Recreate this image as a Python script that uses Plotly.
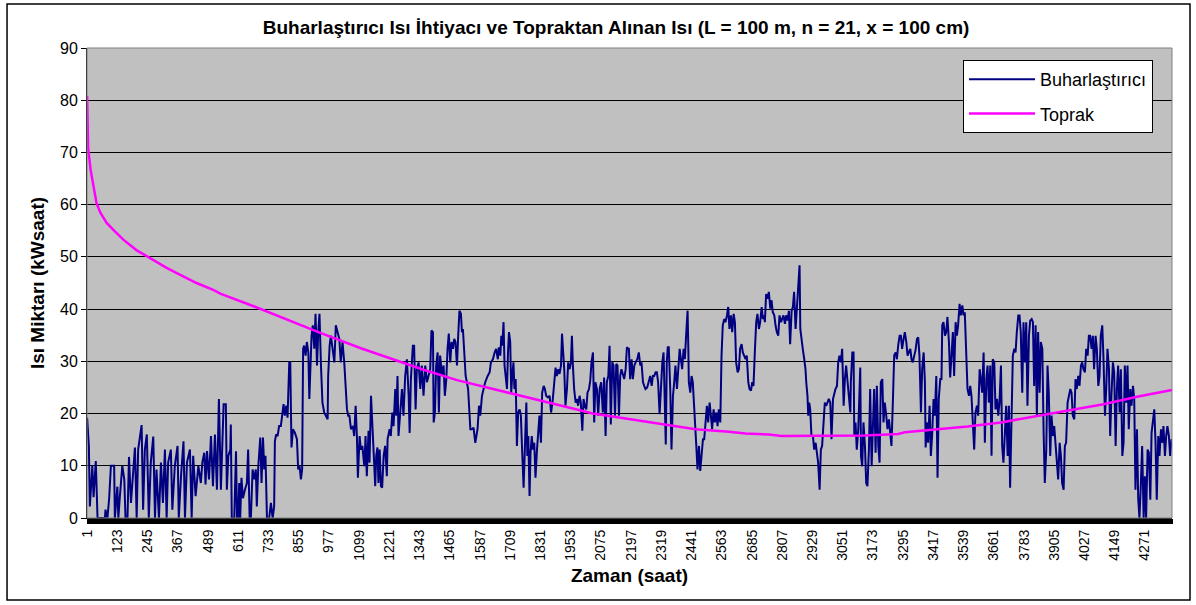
import plotly.graph_objects as go

# ---------------- data ----------------
tick_labels = [str(v) for v in range(1, 4272, 122)]
tick_positions = list(range(1, 4272, 122))

buhar_saat = [
    1, 8, 12, 22, 27, 36, 43, 73, 75, 83, 90, 97, 110, 113, 123, 127, 133, 143, 151, 156,
    164, 170, 178, 187, 194, 201, 207, 221, 227, 234, 242, 250, 258, 268, 275, 281, 291, 299, 307, 315,
    322, 328, 339, 345, 355, 366, 371, 380, 390, 396, 404, 416, 423, 429, 439, 450, 460, 466, 474, 479,
    485, 493, 501, 509, 517, 525, 533, 541,
    552, 561, 565, 571, 579, 581, 585, 595, 602, 606, 611, 615, 619, 624, 630, 638, 646, 651, 657, 662,
    669, 676, 682, 686, 692, 700, 705, 711, 716, 721, 727, 736, 743, 750, 756, 759, 764, 770, 776, 783,
    790, 794, 799, 805, 810, 817, 821, 824, 826, 832, 840, 848, 853, 859, 864, 869, 873, 877, 883, 888,
    894, 898, 902, 907, 912, 918, 923, 929, 934, 939, 945, 951, 958, 965, 972, 974, 980, 985, 992, 999,
    1005, 1012, 1019, 1025, 1032, 1039, 1046, 1050, 1055, 1060, 1066, 1074, 1079, 1085,
    1090, 1094, 1101, 1106, 1112, 1117, 1120, 1125, 1130, 1137, 1141, 1147, 1152, 1157, 1164, 1168, 1173, 1177,
    1182, 1187, 1192, 1198, 1204, 1211, 1214, 1222, 1227, 1233, 1238, 1245, 1249, 1254, 1258, 1265, 1272, 1278,
    1285, 1292, 1299, 1303, 1308, 1316, 1321, 1327, 1332, 1339, 1346, 1352, 1359, 1366, 1373, 1379, 1386, 1391,
    1397, 1400, 1405, 1410, 1416, 1421, 1426, 1434, 1440, 1445, 1451, 1456, 1461, 1467, 1472, 1478, 1483, 1488,
    1494, 1499, 1504, 1510, 1514, 1518, 1523, 1529, 1534, 1539, 1545, 1548, 1554, 1561, 1568, 1572, 1577, 1583,
    1588, 1595, 1601, 1608, 1618, 1626, 1631,
    1639, 1646, 1652, 1659, 1663, 1669, 1673, 1677, 1682, 1686, 1690, 1696, 1700, 1704, 1709, 1713, 1717, 1722,
    1726, 1731, 1736, 1741, 1747, 1752, 1757, 1763, 1768, 1774, 1778, 1782, 1787, 1791, 1796, 1800, 1806, 1811,
    1817, 1822, 1827, 1833, 1838, 1844, 1849, 1854, 1861, 1868, 1874, 1881, 1887, 1892, 1897, 1903, 1908, 1914,
    1918, 1922, 1927, 1932, 1938, 1943, 1949, 1954, 1958, 1962, 1967, 1973, 1978, 1983, 1989, 1994, 2000, 2005,
    2010, 2016, 2021, 2027, 2032, 2037, 2043, 2048, 2053, 2059, 2064, 2070, 2076, 2083, 2088, 2094, 2099, 2105,
    2110, 2115, 2121, 2126, 2132, 2137, 2142, 2148, 2153, 2158, 2164, 2169, 2175, 2180, 2185,
    2188, 2193, 2199, 2204, 2210, 2215, 2222, 2228, 2234, 2239, 2245, 2250, 2255, 2262, 2269, 2274, 2280, 2285,
    2290, 2296, 2301, 2306, 2312, 2317, 2323, 2328, 2333, 2337, 2341, 2345, 2349, 2355, 2360, 2366, 2371, 2376,
    2382, 2387, 2393, 2398, 2403, 2409, 2414, 2419, 2425, 2428, 2430, 2436, 2441, 2446, 2452, 2457, 2461, 2465,
    2471, 2476, 2481, 2487, 2492, 2498, 2503, 2508, 2514, 2519, 2524, 2530, 2535, 2541, 2546, 2551, 2557, 2562,
    2567, 2573, 2578, 2584, 2589, 2594, 2600, 2605, 2611, 2616, 2621, 2627, 2632, 2637, 2643, 2648, 2654, 2659,
    2664, 2670, 2675, 2681, 2686, 2691, 2697, 2702, 2707, 2713, 2718, 2724, 2729, 2734,
    2737, 2742, 2748, 2753, 2759, 2764, 2769, 2775, 2780, 2785, 2791, 2796, 2802, 2807, 2812, 2818, 2823, 2829,
    2834, 2839, 2845, 2850, 2855, 2861, 2866, 2872, 2877, 2880, 2885, 2890, 2896, 2901, 2904, 2909, 2912, 2916,
    2920, 2925, 2931, 2936, 2942, 2947, 2952, 2958, 2963, 2968, 2974, 2979, 2985, 2990, 2995, 3001, 3006, 3012,
    3017, 3022, 3028, 3033, 3038, 3044, 3049, 3055, 3060, 3065, 3071, 3076, 3082, 3084, 3090, 3095, 3098, 3103,
    3108, 3114, 3119, 3122, 3125, 3130, 3135, 3141, 3146, 3151, 3157, 3162, 3168, 3173, 3178, 3184, 3189, 3195,
    3200, 3205, 3211, 3216, 3221, 3227, 3232, 3238, 3243, 3248, 3254, 3259, 3265, 3270, 3275, 3281,
    3286, 3291, 3297, 3302, 3308, 3313, 3318, 3324, 3329, 3334, 3340, 3345, 3351, 3356, 3361, 3367, 3372, 3378,
    3383, 3386, 3391, 3396, 3402, 3407, 3412, 3418, 3423, 3429, 3434, 3439, 3445, 3450, 3453, 3458, 3464, 3469,
    3474, 3480, 3485, 3491, 3496, 3501, 3507, 3512, 3517, 3523, 3528, 3534, 3539, 3544, 3550, 3555, 3561, 3566,
    3571, 3577, 3582, 3587, 3593, 3598, 3604, 3609, 3614, 3620, 3625, 3631, 3636, 3641, 3647, 3652, 3657, 3663,
    3668, 3674, 3679, 3684, 3690, 3695, 3700, 3706, 3711, 3717, 3722, 3727, 3733, 3738, 3744, 3749, 3754, 3760,
    3765, 3770, 3776, 3781, 3787, 3792, 3797, 3803, 3808, 3814, 3819, 3824, 3830,
    3835, 3840, 3846, 3851, 3857, 3862, 3867, 3873, 3878, 3883, 3889, 3894, 3900, 3905, 3910, 3916, 3921, 3927,
    3932, 3937, 3943, 3948, 3953, 3959, 3964, 3970, 3975, 3980, 3986, 3991, 3996, 4002, 4007, 4013, 4018, 4023,
    4029, 4034, 4040, 4045, 4050, 4056, 4061, 4066, 4072, 4077, 4083, 4088, 4093, 4099, 4104, 4110, 4115, 4120,
    4126, 4131, 4136, 4142, 4147, 4153, 4158, 4163, 4169, 4174, 4180, 4185, 4190, 4196, 4201, 4206, 4212, 4217,
    4223, 4228, 4233, 4239, 4244, 4249, 4255, 4260, 4266, 4271, 4276, 4282, 4287, 4293, 4298, 4303, 4309, 4314,
    4319, 4325, 4330, 4336, 4341, 4346, 4352, 4357, 4362, 4368, 4373, 4379, 4380,
]

buhar_deger = [
    19.2, 13.8, 2.2, 10, 4, 10.9, 0, 0, 1.6, 0, 3.8, 10, 10, 0, 6, 0, 4, 10, 7.4, 0,
    0, 11.7, 2.9, 10, 13.5, 0, 13.1, 17.8, 1.6, 13.1, 16, 0, 10.6, 15.6, 0, 9.3, 0, 10.6, 2.9, 13.1,
    0, 10.6, 13.1, 1.6, 10, 13.8, 0, 8, 14.7, 0, 10.6, 13.1, 0, 11.9, 4.2, 10, 6.7, 10.6, 12.5, 6.4,
    12.8, 7.4, 15.7, 6.1, 16, 5.4, 22.8, 5.4,
    21.8, 21.8, 5.4, 11.9, 13.1, 17.9, 0, 0, 12.8, 0, 0, 6.7, 0, 7.7, 3.8, 5.4, 6.7, 13.1, 0, 0,
    9.3, 7.4, 9.3, 2.2, 9.9, 15.4, 6.7, 15.4, 9.3, 11.9, 0, 0, 2.9, 0, 2.2, 14.7, 16, 15.7, 17.6, 17.6,
    19.9, 21.8, 19.6, 21.5, 19.2, 29.8, 29.8, 20.8, 13.5, 17, 16.3, 15.1, 9.3, 9.9, 7.4, 9.3, 32.4, 33, 31.1, 33.7,
    31.7, 22.8, 27.2, 34.9, 36.9, 32.4, 39.1, 29.2, 35.6, 39.1, 29.2, 22.1, 20.2, 19.6, 18.9, 27.2, 33, 34.9, 32.4, 29.8,
    36.9, 35.6, 34.3, 29.8, 33.7, 29.8, 25.3, 20.8, 19.6, 19.6, 17, 17.6, 15.7, 21.5,
    15.7, 7.7, 15.7, 13.1, 13.8, 11.9, 9.9, 15.7, 8.0, 16.7, 10.6, 23.4, 18.3, 10.6, 6.1, 11.9, 13.5, 6.7,
    13.1, 6.1, 5.8, 11.9, 13.8, 8.0, 15.1, 17.0, 15.7, 20.2, 17.6, 24.7, 19.6, 27.2, 15.7, 20.2, 24.7, 19.6,
    27.2, 30.4, 23.4, 16.3, 26.6, 33.0, 33.0, 20.8, 28.5, 29.8, 24.7, 29.2, 23.4, 29.2, 26.0, 27.2, 28.5, 35.9,
    35.6, 18.3, 20.2, 29.2, 31.7, 20.2, 31.1, 27.2, 29.2, 23.4, 26.6, 32.4, 35.3, 29.8, 33.7, 32.4, 34.3, 33.7,
    29.2, 34.9, 39.7, 39.1, 35.6, 36.2, 32.4, 27.2, 26.0, 24.7, 19.6, 17.0, 17.0, 17.3, 14.4, 15.7, 17.0, 21.5,
    19.6, 23.4, 24.7, 26.0, 27.2, 27.9, 29.8,
    30.4, 31.7, 32.4, 30.4, 32.7, 31.1, 34.9, 33.0, 37.5, 29.2, 27.2, 24.7, 31.7, 35.6, 33.7, 24.0, 27.2, 29.8,
    24.7, 26.6, 13.8, 20.2, 20.8, 19.6, 13.1, 5.8, 13.1, 22.1, 11.9, 15.7, 4.2, 12.5, 15.7, 13.1, 14.4, 7.7,
    13.1, 17.0, 19.6, 14.4, 24.0, 25.3, 24.7, 23.4, 23.1, 23.4, 20.2, 22.8, 27.2, 28.8, 27.2, 28.5, 27.6, 29.2,
    35.3, 32.4, 28.5, 21.5, 24.7, 29.8, 28.5, 29.8, 34.9, 29.2, 24.7, 22.1, 22.8, 21.5, 23.4, 22.1, 16.7, 22.8,
    21.5, 20.8, 24.0, 24.7, 26.3, 29.8, 31.7, 18.3, 26.0, 24.7, 19.6, 24.7, 26.0, 20.2, 26.9, 15.7, 26.0, 27.2,
    33.0, 17.9, 29.8, 29.2, 19.6, 29.5, 29.2, 19.6, 27.2, 28.5, 27.2, 26.6, 28.5, 32.7, 32.4,
    32.4, 26.6, 30.4, 26.6, 29.2, 29.8, 30.4, 31.7, 29.2, 29.8, 26.0, 25.3, 24.7, 25.0, 26.3, 27.2, 25.3, 27.2,
    27.2, 27.9, 27.9, 26.0, 19.9, 24.7, 29.8, 31.7, 23.4, 14.1, 29.8, 32.7, 32.7, 24.7, 13.1, 23.4, 26.0, 29.2,
    24.7, 27.9, 32.4, 30.4, 28.5, 32.4, 30.4, 34.9, 39.7, 32.4, 26.0, 24.0, 27.2, 26.0, 19.6, 15.7, 13.1, 9.3,
    13.8, 9.0, 11.9, 15.1, 15.1, 19.6, 21.5, 18.3, 22.1, 19.6, 17.0, 20.8, 18.3, 20.2, 17.6, 20.8, 18.3, 31.1,
    36.9, 38.1, 37.5, 38.8, 40.4, 36.2, 38.8, 35.6, 39.1, 37.5, 29.8, 27.9, 28.5, 32.4, 33.3, 31.7, 31.1, 30.4,
    31.1, 26.0, 24.7, 24.4, 26.0, 25.3, 32.4, 37.5, 39.1, 36.2, 37.5, 40.4, 38.1, 38.8,
    37.5, 42.9, 42.0, 43.3, 40.1, 41.7, 39.4, 38.8, 36.9, 35.6, 34.9, 38.8, 37.5, 38.1, 38.8, 37.2, 38.8, 37.8,
    39.7, 33.3, 39.7, 40.4, 43.3, 36.2, 40.7, 45.2, 48.4, 36.2, 33.7, 32.4, 30.4, 28.5, 26.0, 23.4, 19.6, 22.1,
    20.8, 15.7, 15.7, 13.1, 14.4, 12.5, 10.6, 5.4, 13.1, 13.8, 19.6, 22.1, 21.5, 22.1, 22.8, 22.1, 15.1, 22.8,
    24.0, 24.7, 25.3, 29.8, 31.1, 29.8, 32.4, 21.5, 26.6, 29.2, 26.0, 23.4, 20.2, 26.0, 31.7, 31.7, 15.7, 18.3,
    13.1, 17.0, 23.4, 28.8, 11.9, 9.9, 18.3, 13.8, 6.7, 6.1, 13.1, 24.7, 9.9, 20.2, 24.7, 12.5, 25.3, 13.8,
    10.6, 26.0, 26.6, 18.3, 22.1, 19.6, 17.0, 18.9, 15.7, 13.8, 22.8, 31.1, 31.7, 30.4, 33.0, 34.9,
    34.9, 32.4, 34.3, 35.6, 33.7, 31.1, 31.7, 32.4, 30.4, 29.8, 31.1, 32.1, 34.3, 34.6, 31.1, 20.2, 28.5, 31.7,
    26.0, 13.5, 18.3, 14.4, 21.5, 11.9, 15.7, 22.8, 19.6, 27.2, 7.7, 22.8, 26.6, 26.6, 36.9, 37.5, 34.9, 35.6,
    38.5, 33.7, 26.9, 32.4, 35.6, 27.2, 37.5, 34.9, 36.9, 41.0, 38.8, 40.7, 38.8, 39.4, 32.4, 24.7, 23.4, 25.3,
    23.4, 15.7, 13.1, 20.2, 21.5, 19.6, 28.5, 26.6, 24.0, 31.7, 14.4, 26.6, 29.2, 22.1, 29.2, 11.9, 30.4, 29.8,
    20.8, 22.8, 19.6, 22.1, 29.2, 13.8, 10.6, 16.3, 21.5, 11.9, 21.5, 5.8, 17.0, 31.1, 32.4, 31.7, 35.6, 38.8,
    38.8, 35.6, 24.0, 37.5, 29.8, 37.5, 21.5, 34.9, 37.8, 38.1, 37.5, 25.3, 36.9,
    19.6, 35.6, 24.0, 33.7, 32.4, 17.0, 6.7, 13.1, 29.2, 24.0, 11.9, 19.6, 15.7, 17.6, 14.4, 10.6, 7.4, 14.4,
    11.9, 6.7, 5.4, 13.8, 14.4, 22.1, 23.4, 24.7, 24.0, 19.6, 18.9, 26.6, 24.7, 27.2, 25.3, 29.2, 29.8, 28.5,
    27.9, 32.4, 31.1, 34.9, 34.9, 32.4, 34.9, 28.5, 34.9, 32.4, 25.3, 27.2, 34.9, 36.9, 30.4, 19.6, 24.7, 32.4,
    28.5, 15.7, 23.4, 29.8, 27.9, 13.8, 24.7, 29.2, 20.2, 28.5, 11.9, 14.4, 29.2, 22.1, 29.2, 17.0, 24.7, 21.5,
    25.3, 22.8, 5.4, 17.0, 3.8, 0, 6.7, 13.8, 0, 8.0, 0, 13.1, 12.5, 3.5, 16.3, 18.3, 20.8, 14.4,
    3.5, 15.7, 11.9, 17.0, 14.4, 17.6, 11.9, 15.7, 17.6, 15.7, 11.9, 15.1, 14.4,
]

toprak_saat = [1, 5, 15, 25, 39, 55, 80, 106, 147, 200, 254, 322, 375, 443, 510, 541, 676, 810,
               945, 1106, 1225, 1359, 1494, 1628, 1774, 1908, 2043, 2204, 2323, 2457, 2592, 2659,
               2754, 2804, 3141, 3275, 3302, 3421, 3555, 3690, 3824, 3970, 4104, 4239, 4380]
toprak_deger = [80.8, 70.9, 66.7, 63.8, 60.3, 58.4, 56.5, 55.2, 53.3, 51.3, 49.8, 47.9, 46.6, 45.0,
                43.7, 42.9, 40.5, 37.9, 35.4, 32.5, 30.6, 28.4, 26.4, 24.8, 23.2, 21.6, 20.0, 18.8,
                18.0, 17.0, 16.5, 16.2, 16.0, 15.7, 15.8, 16.1, 16.4, 16.9, 17.5, 18.3, 19.4, 20.7,
                21.8, 23.2, 24.5]

# ---------------- figure ----------------
FONT = "Liberation Sans, Arial, sans-serif"

fig = go.Figure()
fig.add_trace(go.Scatter(x=buhar_saat, y=buhar_deger, mode="lines", name="Buharlaştırıcı",
                         line=dict(color="#000080", width=2), legendgroup="a"))
fig.add_trace(go.Scatter(x=toprak_saat, y=toprak_deger, mode="lines", name="Toprak",
                         line=dict(color="#FF00FF", width=2.5), legendgroup="b"))

fig.update_layout(
    width=1196, height=605,
    margin=dict(l=87, r=24, t=48, b=87),
    paper_bgcolor="white",
    plot_bgcolor="#C0C0C0",
    font=dict(family=FONT, size=16, color="black"),
    title=dict(text="<b>Buharlaştırıcı Isı İhtiyacı ve Topraktan Alınan Isı (L = 100 m, n = 21, x = 100 cm)</b>",
               x=0.4876, xref="paper", xanchor="center", y=0.955, yref="container", yanchor="middle",
               font=dict(family=FONT, size=19, color="black")),
    showlegend=True,
    legend=dict(x=0.8074, y=0.9745, xanchor="left", yanchor="top", bgcolor="white",
                bordercolor="black", borderwidth=1, font=dict(family=FONT, size=18, color="black"),
                traceorder="grouped", tracegroupgap=8, itemwidth=66),
)

fig.update_xaxes(
    range=[0.5, 4380.5],
    tickmode="array", tickvals=tick_positions, ticktext=tick_labels,
    tickangle=-90, tickfont=dict(family=FONT, size=14, color="black"),
    ticks="outside", ticklen=5, tickcolor="black",
    minor=dict(ticks="outside", ticklen=5, tickcolor="black", dtick=4, tick0=0.5, showgrid=False),
    showgrid=False, zeroline=False,
    showline=True, linecolor="black", linewidth=1,
    title=dict(text="<b>Zaman (saat)</b>", font=dict(family=FONT, size=19, color="black"), standoff=8),
)
fig.update_yaxes(
    range=[0, 90], dtick=10, tick0=0,
    tickfont=dict(family=FONT, size=16, color="black"),
    ticks="outside", ticklen=5, tickcolor="black",
    showgrid=True, gridcolor="#000000", gridwidth=1,
    zeroline=False, showline=True, linecolor="black", linewidth=1,
    title=dict(text="<b>Isı Miktarı (kWsaat)</b>", font=dict(family=FONT, size=19, color="black"), standoff=10),
)

# plot-area border and outer chart frame
fig.add_shape(type="rect", xref="paper", yref="paper", x0=0, y0=0, x1=1, y1=1,
              line=dict(color="#808080", width=1), layer="above")
fig.add_shape(type="rect", xref="paper", yref="paper", x0=-0.0737, y0=-0.1745, x1=1.0166, y1=1.0936,
              line=dict(color="black", width=1.5), layer="above")

fig.write_html("out.html", config={"displayModeBar": False},
               post_script="document.body.style.margin='0px';")
